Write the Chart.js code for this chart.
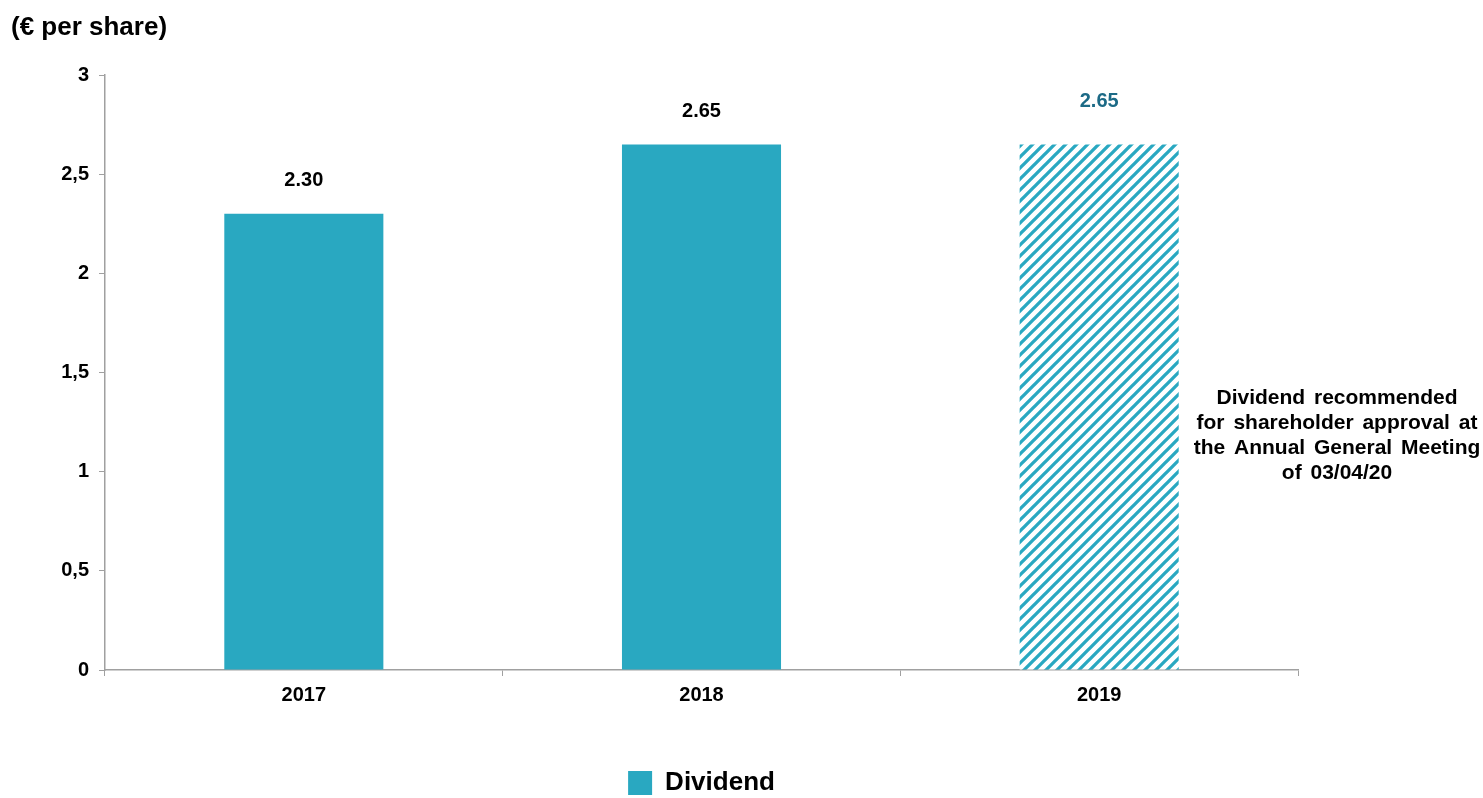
<!DOCTYPE html>
<html>
<head>
<meta charset="utf-8">
<script src="https://cdn.jsdelivr.net/npm/chart.js@4/dist/chart.umd.min.js"></script>
<style>
  html, body { margin: 0; padding: 0; background: #fff; }
  #wrap { width: 1483px; height: 798px; position: relative; }
</style>
</head>
<body>
<div id="wrap"><canvas id="c"></canvas></div>
<script>
// Dividend per share, 2017-2019 (2019 = proposed, hatched)
const years = ["2017", "2018", "2019"];
const dividend = [2.30, 2.65, 2.65];
const proposed = [false, false, true];
const yTicks = [0, 0.5, 1, 1.5, 2, 2.5, 3];
const unitTitle = "(€ per share)";
const noteLines = [
  "Dividend recommended",
  "for shareholder approval at",
  "the Annual General Meeting",
  "of 03/04/20",
];

const TEAL = "#29A8C1";
const DARK_TEAL = "#1C6A86";
const AXIS = "#A0A0A0";
const FONT = "'Liberation Sans', Arial, sans-serif";

function hatch() {
  const s = 11;
  const c = document.createElement("canvas");
  c.width = s; c.height = s;
  const g = c.getContext("2d");
  g.fillStyle = "#fff";
  g.fillRect(0, 0, s, s);
  g.strokeStyle = TEAL;
  g.lineWidth = 3.3;
  g.beginPath();
  g.moveTo(-s / 2, s / 2); g.lineTo(s / 2, -s / 2);
  g.moveTo(0, s); g.lineTo(s, 0);
  g.moveTo(s / 2, s * 1.5); g.lineTo(s * 1.5, s / 2);
  g.stroke();
  return g.createPattern(c, "repeat");
}

const fills = proposed.map((p) => (p ? hatch() : TEAL));

// value labels above bars, unit title, side note
const extras = {
  id: "extras",
  afterDatasetsDraw(chart) {
    const ctx = chart.ctx;
    const meta = chart.getDatasetMeta(0);
    ctx.save();
    ctx.textAlign = "center";
    ctx.textBaseline = "middle";
    ctx.font = "bold 20px " + FONT;
    meta.data.forEach((bar, i) => {
      ctx.fillStyle = proposed[i] ? DARK_TEAL : "#000";
      ctx.fillText(dividend[i].toFixed(2), bar.x, bar.y - (proposed[i] ? 43 : 33));
    });

    ctx.textAlign = "left";
    ctx.fillStyle = "#000";
    ctx.font = "bold 26px " + FONT;
    ctx.fillText(unitTitle, 11, 28);

    ctx.textAlign = "center";
    ctx.font = "bold 21px " + FONT;
    ctx.wordSpacing = "3px";
    noteLines.forEach((t, i) => ctx.fillText(t, 1337, 398 + i * 25));
    ctx.restore();
  },
};

new Chart(document.getElementById("c"), {
  type: "bar",
  data: {
    labels: years,
    datasets: [
      {
        label: "Dividend",
        data: dividend,
        backgroundColor: fills,
        borderWidth: 0,
        categoryPercentage: 1,
        barPercentage: 0.4,
      },
    ],
  },
  options: {
    responsive: true,
    maintainAspectRatio: false,
    animation: false,
    layout: { padding: { left: 0, right: 185, top: 75, bottom: -8 } },
    plugins: {
      tooltip: { enabled: false },
      legend: {
        position: "bottom",
        fullSize: false,
        labels: {
          color: "#000",
          font: { family: FONT, size: 26, weight: "bold" },
          boxWidth: 24,
          boxHeight: 24,
          padding: 2,
          generateLabels: () => [
            { text: "Dividend", fillStyle: TEAL, strokeStyle: TEAL, lineWidth: 0, datasetIndex: 0 },
          ],
        },
      },
    },
    scales: {
      x: {
        afterFit: (s) => { s.height = 98; },
        grid: { offset: true, drawOnChartArea: false, drawTicks: true, tickLength: 6, color: AXIS },
        border: { color: AXIS, width: 1.5 },
        ticks: { color: "#000", padding: 7, font: { family: FONT, size: 20, weight: "bold" } },
      },
      y: {
        min: 0,
        max: 3,
        afterFit: (s) => { s.width = 105; },
        afterBuildTicks: (s) => { s.ticks = yTicks.map((v) => ({ value: v })); },
        grid: { drawOnChartArea: false, drawTicks: true, tickLength: 6, color: AXIS },
        border: { color: AXIS, width: 1.5 },
        ticks: {
          color: "#000",
          padding: 10,
          font: { family: FONT, size: 20, weight: "bold" },
          callback: (v) => String(v).replace(".", ","),
        },
      },
    },
  },
  plugins: [extras],
});
</script>
</body>
</html>
